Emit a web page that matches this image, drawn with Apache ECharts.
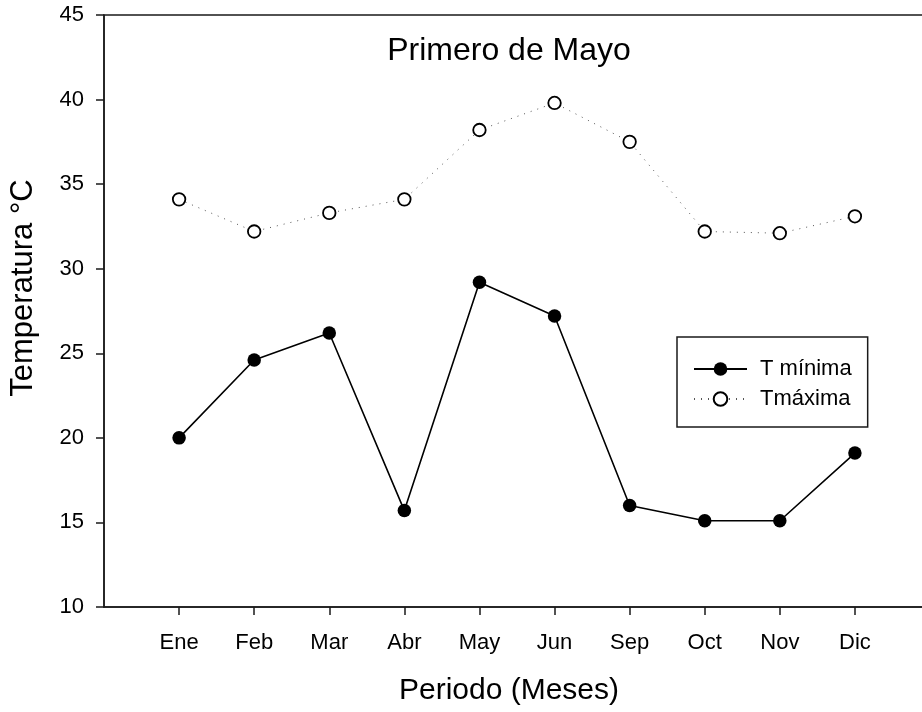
<!DOCTYPE html>
<html>
<head>
<meta charset="utf-8">
<script src="https://cdn.jsdelivr.net/npm/echarts@6/dist/echarts.min.js"></script>
<style>
  html, body { margin: 0; padding: 0; background: #fff; }
  #chart { width: 922px; height: 712px; }
</style>
</head>
<body>
<div id="chart"></div>
<script>
// Monthly temperatures, Primero de Mayo
const months = ['Ene', 'Feb', 'Mar', 'Abr', 'May', 'Jun', 'Sep', 'Oct', 'Nov', 'Dic'];
const tMinima = [20.0, 24.6, 26.2, 15.7, 29.2, 27.2, 16.0, 15.1, 15.1, 19.1];
const tMaxima = [34.1, 32.2, 33.3, 34.1, 38.2, 39.8, 37.5, 32.2, 32.1, 33.1];
const yTicks = [10, 15, 20, 25, 30, 35, 40, 45];

const FONT = '"Liberation Sans", Arial, Helvetica, sans-serif';
const INK = '#1a1a1a';

// month slots sit at 1..n on a numeric x axis
const slots = months.map((_, i) => i + 1);
const pairs = arr => arr.map((v, i) => [slots[i], v]);

const chart = echarts.init(document.getElementById('chart'), null, { renderer: 'canvas' });

chart.setOption({
  backgroundColor: '#fff',
  animation: false,
  grid: {
    left: 104, top: 15, right: -8, bottom: 105,
    show: true, borderColor: INK, borderWidth: 1.5,
    backgroundColor: 'transparent',
    containLabel: false, outerBoundsMode: 'none'
  },
  xAxis: {
    type: 'value', min: 0, max: 11,
    splitLine: { show: false },
    axisLine: { show: true, lineStyle: { color: INK, width: 1.5 } },
    axisTick: { show: true, length: 8, customValues: slots, lineStyle: { color: INK, width: 1.5 } },
    axisLabel: {
      customValues: slots,
      formatter: v => months[Math.round(v) - 1] || '',
      margin: 25, fontSize: 22, fontFamily: FONT, color: '#000'
    }
  },
  yAxis: {
    type: 'value', min: yTicks[0], max: yTicks[yTicks.length - 1], interval: 5,
    splitLine: { show: false },
    axisLine: { show: true, lineStyle: { color: INK, width: 1.5 } },
    axisTick: { show: true, length: 8, lineStyle: { color: INK, width: 1.5 } },
    axisLabel: { margin: 20, fontSize: 22, fontFamily: FONT, color: '#000' }
  },
  legend: {
    orient: 'vertical', left: 677, top: 337,
    itemWidth: 53, itemHeight: 17, itemGap: 8,
    padding: [21, 16, 17, 16],
    borderColor: INK, borderWidth: 1.5, borderRadius: 0,
    backgroundColor: '#fff',
    textStyle: { fontSize: 22, fontFamily: FONT, color: '#000', padding: [0, 0, 0, 8] },
    data: ['T mínima', 'Tmáxima']
  },
  graphic: [
    {
      type: 'text', x: 509, y: 51,
      style: { text: 'Primero de Mayo', font: '32px ' + FONT, fill: '#000', textAlign: 'center', textVerticalAlign: 'middle' }
    },
    {
      type: 'text', x: 509, y: 691,
      style: { text: 'Periodo (Meses)', font: '30px ' + FONT, fill: '#000', textAlign: 'center', textVerticalAlign: 'middle' }
    },
    {
      type: 'text', x: 23, y: 288, rotation: Math.PI / 2,
      style: { text: 'Temperatura °C', font: '31px ' + FONT, fill: '#000', textAlign: 'center', textVerticalAlign: 'middle' }
    }
  ],
  series: [
    {
      name: 'T mínima', type: 'line', data: pairs(tMinima),
      symbol: 'circle', symbolSize: 13.5, showSymbol: true,
      lineStyle: { color: '#000', width: 1.6 },
      itemStyle: { color: '#000', borderColor: '#000', borderWidth: 0 },
      z: 3
    },
    {
      name: 'Tmáxima', type: 'line', data: pairs(tMaxima),
      symbol: 'circle', symbolSize: 12.5, showSymbol: true,
      lineStyle: { color: '#555', width: 1, type: [1, 6] },
      itemStyle: { color: '#fff', borderColor: '#000', borderWidth: 1.8 },
      z: 3
    }
  ]
});
</script>
</body>
</html>
